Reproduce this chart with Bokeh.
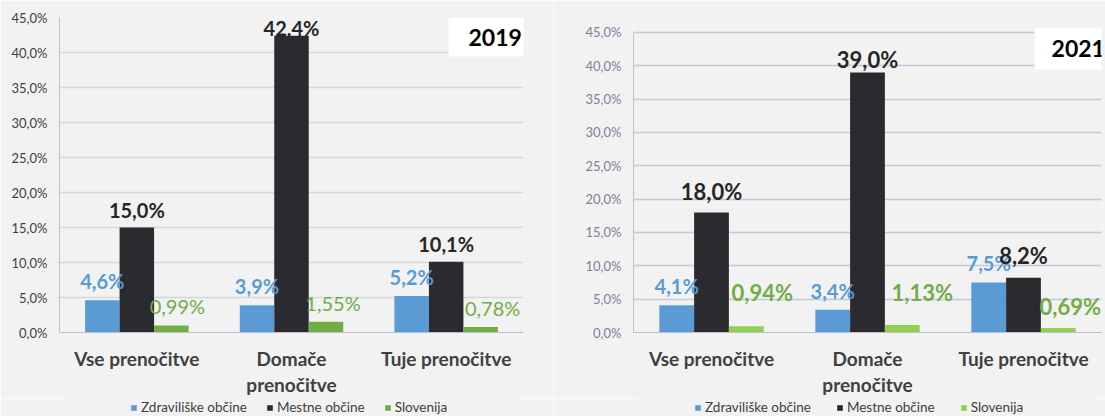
from bokeh.plotting import figure
from bokeh.models import (ColumnDataSource, FactorRange, Range1d, FixedTicker, Legend,
                          LegendItem, Label, CategoricalAxis, CustomJSTickFormatter)
from bokeh.transform import dodge
from bokeh.layouts import row, column
from bokeh.core.properties import value
from bokeh.embed import file_html
from bokeh.resources import INLINE

# ---------------- data ----------------
categories = ["Vse prenočitve", "Domače prenočitve", "Tuje prenočitve"]
category_line1 = ["Vse prenočitve", "Domače", "Tuje prenočitve"]
category_line2 = [" ", "prenočitve", " "]
series_names = ["Zdraviliške občine", "Mestne občine", "Slovenija"]

zdr_2019 = [4.6, 3.9, 5.2]
mes_2019 = [15.0, 42.4, 10.1]
slo_2019 = [0.99, 1.55, 0.78]

zdr_2021 = [4.1, 3.4, 7.5]
mes_2021 = [18.0, 39.0, 8.2]
slo_2021 = [0.94, 1.13, 0.69]

yticks = [0, 5, 10, 15, 20, 25, 30, 35, 40, 45]
ytick_labels = ["0,0%", "5,0%", "10,0%", "15,0%", "20,0%", "25,0%",
                "30,0%", "35,0%", "40,0%", "45,0%"]

# ---------------- styles ----------------
FONT = "Lato"
BG = "#f2f2f2"
BLUE = "#5b9bd5"
BLACK = "#2b2a2f"
GREEN_L = "#70ad47"
GREEN_R = "#92d050"
W = 0.223

# label placement (screen px: right offsets / up offsets)
off_2019 = {"zdr": ([0, 0, 0], [19, 19, 19]),
            "mes": ([0, 0, 0], [18, 8, 18]),
            "slo": ([6, 7, 12], [20, 19, 19])}
off_2021 = {"zdr": ([0, 0, 0], [19, 19, 19]),
            "mes": ([0, 0, 0], [21, 13, 22]),
            "slo": ([16, 20, 12], [34, 32, 21])}

MAP_JS = "const i = keys.indexOf(tick); return i >= 0 ? vals[i] : tick;"


def fmt(v, d):
    return (f"{v:.{d}f}").replace(".", ",") + "%"


def style_xaxis(ax, standoff, line_color):
    ax.major_label_text_font = FONT
    ax.major_label_text_font_size = "19px"
    ax.major_label_text_font_style = "bold"
    ax.major_label_text_color = "#404040"
    ax.major_label_standoff = standoff
    ax.major_tick_line_color = None
    ax.minor_tick_line_color = None
    ax.major_tick_out = 0
    ax.major_tick_in = 0
    ax.minor_tick_out = 0
    ax.axis_line_color = line_color


def make_chart(year, zdr, mes, slo, offs, width, bl, br, y_end, green, green_lbl,
               green_bold, mes_size, tick_color, grid_color,
               year_x, year_y, year_pad, legend_margin, legend_spacing):
    src = ColumnDataSource(dict(
        cat=categories, zdr=zdr, mes=mes, slo=slo,
        zdr_t=[fmt(v, 1) for v in zdr], mes_t=[fmt(v, 1) for v in mes],
        slo_t=[fmt(v, 2) for v in slo],
        zdr_dx=offs["zdr"][0], zdr_dy=[-v for v in offs["zdr"][1]],
        mes_dx=offs["mes"][0], mes_dy=[-v for v in offs["mes"][1]],
        slo_dx=offs["slo"][0], slo_dy=[-v for v in offs["slo"][1]],
    ))
    p = figure(x_range=FactorRange(*categories, range_padding=0),
               y_range=Range1d(0, y_end), width=width, height=398,
               output_backend="svg", toolbar_location=None,
               min_border_left=bl, min_border_right=br, min_border_top=17,
               min_border_bottom=64)
    p.background_fill_color = BG
    p.border_fill_color = BG
    p.outline_line_color = None

    p.vbar(x=dodge("cat", -W, range=p.x_range), top="zdr", width=W,
           source=src, fill_color=BLUE, line_color=None)
    p.vbar(x=dodge("cat", 0, range=p.x_range), top="mes", width=W,
           source=src, fill_color=BLACK, line_color=None)
    p.vbar(x=dodge("cat", W, range=p.x_range), top="slo", width=W,
           source=src, fill_color=green, line_color=None)

    p.text(x=dodge("cat", -W, range=p.x_range), y="zdr", text="zdr_t",
           x_offset="zdr_dx", y_offset="zdr_dy", source=src,
           text_font=value(FONT), text_font_size="20px", text_font_style="bold",
           text_color=BLUE, text_align="center", text_baseline="middle")
    p.text(x=dodge("cat", 0, range=p.x_range), y="mes", text="mes_t",
           x_offset="mes_dx", y_offset="mes_dy", source=src,
           text_font=value(FONT), text_font_size=mes_size, text_font_style="bold",
           text_color="#262626", text_align="center", text_baseline="middle")
    p.text(x=dodge("cat", W, range=p.x_range), y="slo", text="slo_t",
           x_offset="slo_dx", y_offset="slo_dy", source=src,
           text_font=value(FONT), text_font_size=mes_size,
           text_font_style="bold" if green_bold else "normal",
           text_color=green_lbl, text_align="center", text_baseline="middle")

    # x axes: two stacked category axes give the two-line labels
    p.xaxis.formatter = CustomJSTickFormatter(
        args=dict(keys=categories, vals=category_line1), code=MAP_JS)
    style_xaxis(p.xaxis[0], 14, "#bfbfcf")
    ax2 = CategoricalAxis(formatter=CustomJSTickFormatter(
        args=dict(keys=categories, vals=category_line2), code=MAP_JS))
    style_xaxis(ax2, 0, None)
    p.add_layout(ax2, "below")

    p.yaxis.ticker = FixedTicker(ticks=yticks)
    p.yaxis.bounds = (yticks[0], yticks[-1])
    p.yaxis.major_label_overrides = dict(zip(yticks, ytick_labels))
    p.yaxis.major_label_text_font = FONT
    p.yaxis.major_label_text_font_size = "13px"
    p.yaxis.major_label_text_color = tick_color
    p.yaxis.major_label_standoff = 12
    p.yaxis.major_tick_line_color = None
    p.yaxis.minor_tick_line_color = None
    p.yaxis.major_tick_out = 0
    p.yaxis.major_tick_in = 0
    p.yaxis.minor_tick_out = 0
    p.yaxis.axis_line_color = "#bfbfcf"

    p.xgrid.grid_line_color = None
    p.ygrid.grid_line_color = grid_color
    p.ygrid.grid_line_width = 1.5

    # year box (anchored at the box's top-left corner)
    p.add_layout(Label(x=year_x, y=year_y, text=year, text_font=FONT,
                       text_font_size="23px", text_font_style="bold",
                       text_color="black", text_align="left",
                       text_baseline="top", background_fill_color="white",
                       padding=year_pad))

    # legend strip below the chart
    lg = figure(width=width, height=18, output_backend="svg", toolbar_location=None,
                x_range=Range1d(0, 1), y_range=Range1d(0, 1),
                x_axis_location=None, y_axis_location=None,
                min_border_left=bl, min_border_right=br, min_border_top=0,
                min_border_bottom=0)
    lg.background_fill_color = BG
    lg.border_fill_color = BG
    lg.outline_line_color = None
    lg.grid.visible = False
    g1 = lg.vbar(x=[0], top=[0], width=0, fill_color=BLUE, line_color=None)
    g2 = lg.vbar(x=[0], top=[0], width=0, fill_color=BLACK, line_color=None)
    g3 = lg.vbar(x=[0], top=[0], width=0, fill_color=green, line_color=None)
    legend = Legend(items=[LegendItem(label=series_names[0], renderers=[g1]),
                           LegendItem(label=series_names[1], renderers=[g2]),
                           LegendItem(label=series_names[2], renderers=[g3])],
                    orientation="horizontal", location="left",
                    background_fill_alpha=0, border_line_color=None,
                    label_text_font=FONT, label_text_font_size="13.5px",
                    label_text_color="#404040", glyph_width=7, glyph_height=7,
                    label_height=14, label_standoff=4, spacing=legend_spacing,
                    padding=0, margin=legend_margin)
    lg.add_layout(legend)
    return column(p, lg)


c1 = make_chart("2019", zdr_2019, mes_2019, slo_2019, off_2019, 553, 59, 30, 45,
                GREEN_L, GREEN_L, False, "20px", "#404040", "#d6d6dc",
                2.515, 45.0, dict(left=20, right=19, top=11, bottom=11),
                71, 19)
c2 = make_chart("2021", zdr_2021, mes_2021, slo_2021, off_2021, 552, 80, 4, 47.24,
                GREEN_R, GREEN_L, True, "22px", "#80809c", "#c8c8d6",
                2.571, 45.6, dict(left=17, right=40, top=12, bottom=12),
                61, 25)

layout = row(c1, c2)
open("out.html", "w").write(file_html(layout, INLINE))
